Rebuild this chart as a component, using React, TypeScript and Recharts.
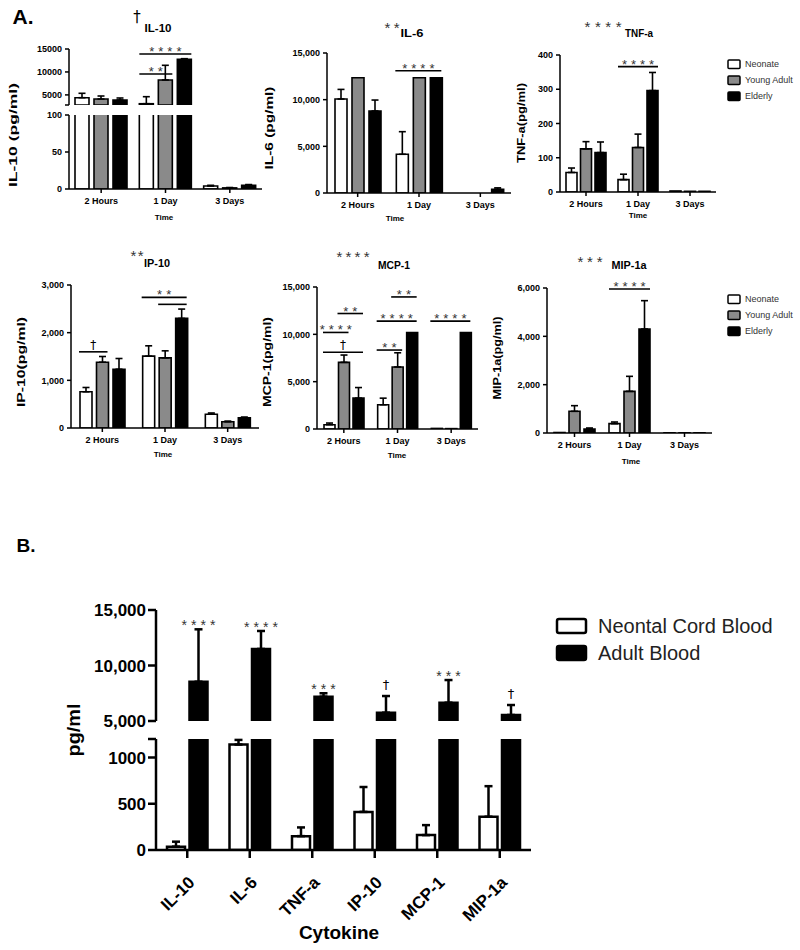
import React from 'react';
import { BarChart, Bar, XAxis, YAxis, ErrorBar, ReferenceLine, ReferenceDot } from 'recharts';

const FONT = "'Liberation Sans', Arial, sans-serif";

// ---------- Part A data (order: 2 Hours, 1 Day, 3 Days) ----------
const TIMES = ['2 Hours', '1 Day', '3 Days'];
const GROUPS = ['Neonate', 'Young Adult', 'Elderly'];
const GROUP_FILL = ['#ffffff', '#8a8a8a', '#000000'];

const IL10_NEONATE = [4390, 3080, 4];
const IL10_YOUNG = [4100, 8250, 1.5];
const IL10_ELDERLY = [3890, 12750, 5];
const IL10_NEONATE_SEM = [960, 1530, 1];
const IL10_YOUNG_SEM = [660, 3200, 0.5];
const IL10_ELDERLY_SEM = [435, 140, 1];
const IL10_TICKS_TOP = [2800, 5000, 10000, 15000];
const IL10_LABELS_TOP = ['', '5000', '10000', '15000'];
const IL10_TICKS_BOTTOM = [0, 50, 100];

const IL6_NEONATE = [10070, 4150, 0];
const IL6_YOUNG = [12350, 12350, 0];
const IL6_ELDERLY = [8790, 12350, 400];
const IL6_NEONATE_SEM = [1030, 2420, 0];
const IL6_YOUNG_SEM = [0, 0, 0];
const IL6_ELDERLY_SEM = [1170, 0, 150];
const IL6_TICKS = [0, 5000, 10000, 15000];

const TNF_NEONATE = [57, 36, 3];
const TNF_YOUNG = [126, 130, 2];
const TNF_ELDERLY = [115, 296, 2];
const TNF_NEONATE_SEM = [13, 16, 0];
const TNF_YOUNG_SEM = [21, 39, 0];
const TNF_ELDERLY_SEM = [31, 53, 0];
const TNF_TICKS = [0, 100, 200, 300, 400];

const IP10_NEONATE = [760, 1507, 290];
const IP10_YOUNG = [1380, 1472, 130];
const IP10_ELDERLY = [1233, 2299, 215];
const IP10_NEONATE_SEM = [90, 217, 25];
const IP10_YOUNG_SEM = [120, 147, 15];
const IP10_ELDERLY_SEM = [225, 196, 15];
const IP10_TICKS = [0, 1000, 2000, 3000];

const MCP1_NEONATE = [455, 2558, 60];
const MCP1_YOUNG = [7043, 6552, 40];
const MCP1_ELDERLY = [3258, 10196, 10196];
const MCP1_NEONATE_SEM = [175, 700, 0];
const MCP1_YOUNG_SEM = [770, 1500, 0];
const MCP1_ELDERLY_SEM = [1120, 0, 0];
const MCP1_TICKS = [0, 5000, 10000, 15000];

const MIP1A_NEONATE = [20, 386, 8];
const MIP1A_YOUNG = [897, 1724, 8];
const MIP1A_ELDERLY = [166, 4303, 8];
const MIP1A_NEONATE_SEM = [0, 69, 0];
const MIP1A_YOUNG_SEM = [234, 621, 0];
const MIP1A_ELDERLY_SEM = [41, 1173, 0];
const MIP1A_TICKS = [0, 2000, 4000, 6000];

// significance bars: time index, from group, to group, height (pg/ml), label
type Sig = { cat: number; from: number; to: number; y: number; text: string };
const IL10_SIG: Sig[] = [
  { cat: 1, from: 0, to: 1, y: 9550, text: '**' },
  { cat: 1, from: 0, to: 2, y: 13900, text: '****' },
];
const IL6_SIG: Sig[] = [{ cat: 1, from: 0, to: 2, y: 13100, text: '****' }];
const TNF_SIG: Sig[] = [{ cat: 1, from: 0, to: 2, y: 366, text: '****' }];
const IP10_SIG: Sig[] = [
  { cat: 0, from: 0, to: 1, y: 1598, text: '†' },
  { cat: 1, from: 0, to: 2, y: 2741, text: '**' },
  { cat: 1, from: 1, to: 2, y: 2594, text: '' },
];
const MCP1_SIG: Sig[] = [
  { cat: 0, from: 1, to: 2, y: 12200, text: '**' },
  { cat: 0, from: 0, to: 1, y: 10200, text: '****' },
  { cat: 0, from: 0, to: 2, y: 8100, text: '†' },
  { cat: 1, from: 1, to: 2, y: 13950, text: '**' },
  { cat: 1, from: 0, to: 2, y: 11390, text: '****' },
  { cat: 1, from: 0, to: 1, y: 8340, text: '**' },
  { cat: 2, from: 0, to: 2, y: 11390, text: '****' },
];
const MIP1A_SIG: Sig[] = [{ cat: 1, from: 0, to: 2, y: 5960, text: '****' }];

// ---------- Part B data ----------
const CYTOKINES = ['IL-10', 'IL-6', 'TNF-a', 'IP-10', 'MCP-1', 'MIP-1a'];
const B_GROUPS = ['Neontal Cord Blood', 'Adult Blood'];
const B_FILL = ['#ffffff', '#000000'];
const CORD = [36, 1140, 150, 412, 161, 360];
const CORD_SEM = [54, 50, 94, 269, 108, 330];
const ADULT = [8540, 11490, 7190, 5750, 6650, 5540];
const ADULT_SEM = [4720, 1620, 310, 1500, 2040, 900];
const ADULT_STARS = ['****', '****', '***', '†', '***', '†'];
const B_TICKS_TOP = [5000, 10000, 15000];
const B_TICKS_BOTTOM = [0, 500, 1000, 1200];
const B_LABELS_BOTTOM = ['0', '500', '1000', ''];

// ---------- drawing ----------
type Series = { name: string; values: number[]; sem: number[]; fill: string };
type Star = { cat: number; bar: number; y: number; text: string };
type Look = {
  axisW: number; barStroke: number; capW: number; errW: number;
  tickFont: number; tickSize: number; tickMargin: number;
  xHeight: number; xTickMargin: number; xAngle?: number;
  starFont: number; starSpacing: number; starDy: number; daggerDy: number;
};

const A_LOOK: Look = {
  axisW: 1.5, barStroke: 1.6, capW: 3.5, errW: 1.6, tickFont: 9, tickSize: 4, tickMargin: 3,
  xHeight: 20, xTickMargin: 5, starFont: 13, starSpacing: 4, starDy: 2, daggerDy: -3,
};
const B_LOOK: Look = {
  axisW: 2.5, barStroke: 2.5, capW: 4, errW: 2.5, tickFont: 17, tickSize: 8, tickMargin: 2,
  xHeight: 95, xTickMargin: 17, xAngle: -45, starFont: 14, starSpacing: 4, starDy: 1, daggerDy: -7,
};

const Y_W = 70;
const MT = 18;
const MR = 10;
const MB = 14;

function SigText(props: any) {
  const { viewBox, txt, look } = props;
  if (!viewBox || !txt) return null;
  const dagger = txt.includes('†');
  const sp = dagger ? 0 : look.starSpacing;
  return (
    <text
      x={viewBox.x + sp / 2}
      y={viewBox.y + (dagger ? look.daggerDy : look.starDy)}
      textAnchor="middle"
      fontSize={dagger ? look.starFont - 1 : look.starFont}
      letterSpacing={sp}
      fill={dagger ? '#000' : '#333'}
      fontFamily={dagger ? "'DejaVu Sans', sans-serif" : FONT}
    >
      {txt}
    </text>
  );
}

interface SegmentProps {
  cats: string[];
  series: Series[];
  domain: [number, number];
  ticks: number[];
  fmt: (v: number) => string;
  box: { left: number; right: number; top: number; bottom: number };
  barSize: number;
  barGap: number;
  showX: boolean;
  look: Look;
  sigs?: Sig[];
  stars?: Star[];
}

function Segment(p: SegmentProps) {
  const { cats, series, domain, box, look } = p;
  const plotW = box.right - box.left;
  const plotH = box.bottom - box.top;
  const xH = p.showX ? look.xHeight : 0;
  const mb = p.showX ? 0 : MB;
  const n = cats.length;
  const band = plotW / n;
  const m = series.length;
  const off = Math.floor((band - (m * p.barSize + (m - 1) * p.barGap)) / 2);
  const barLeft = (c: number, k: number) => c + (off + k * (p.barSize + p.barGap)) / band;
  const barRight = (c: number, k: number) => barLeft(c, k) + p.barSize / band;

  const rows = cats.map((c, i) => {
    const r: Record<string, unknown> = { cat: c, pos: i + 0.5 };
    series.forEach((s, k) => {
      const v = s.values[i];
      const shown = domain[0] <= 0 || v > domain[0];
      r[`v${k}`] = shown ? v : null;
      r[`e${k}`] = shown && v + s.sem[i] <= domain[1] && s.sem[i] > 0 ? [0, s.sem[i]] : null;
    });
    return r;
  });

  const axisStyle = { stroke: '#000', strokeWidth: look.axisW };
  const tickStyle: any = { fontSize: look.tickFont, fontWeight: 700, fill: '#000', fontFamily: FONT };

  return (
    <div style={{ position: 'absolute', left: box.left - Y_W, top: box.top - MT }}>
      <BarChart
        width={Y_W + plotW + MR}
        height={MT + plotH + xH + mb}
        data={rows}
        margin={{ top: MT, right: MR, bottom: mb, left: 0 }}
        barGap={p.barGap}
        barSize={p.barSize}
      >
        <XAxis
          dataKey="cat"
          hide={!p.showX}
          height={p.showX ? xH : undefined}
          interval={0}
          axisLine={axisStyle}
          tickLine={axisStyle}
          tickSize={look.tickSize}
          tickMargin={look.xTickMargin}
          tick={look.xAngle ? { ...tickStyle, angle: look.xAngle, textAnchor: 'end' } : tickStyle}
        />
        <XAxis xAxisId="n" dataKey="pos" type="number" domain={[0, n]} hide allowDataOverflow />
        <YAxis
          width={Y_W}
          type="number"
          domain={domain}
          ticks={p.ticks}
          interval={0}
          allowDataOverflow
          tickFormatter={p.fmt}
          axisLine={axisStyle}
          tickLine={axisStyle}
          tickSize={look.tickSize}
          tickMargin={look.tickMargin}
          tick={tickStyle}
        />
        {series.map((s, k) => (
          <Bar
            key={s.name}
            dataKey={`v${k}`}
            name={s.name}
            fill={s.fill}
            stroke="#000"
            strokeWidth={look.barStroke}
            barSize={p.barSize}
            isAnimationActive={false}
          >
            <ErrorBar dataKey={`e${k}`} width={look.capW} strokeWidth={look.errW} stroke="#000" direction="y" />
          </Bar>
        ))}
        {(p.sigs || []).map((s, i) => (
          <ReferenceLine
            key={`l${i}`}
            xAxisId="n"
            segment={[
              { x: barLeft(s.cat, s.from), y: s.y },
              { x: barRight(s.cat, s.to), y: s.y },
            ]}
            stroke="#000"
            strokeWidth={1.6}
            ifOverflow="visible"
          />
        ))}
        {(p.sigs || []).filter((s) => s.text).map((s, i) => (
          <ReferenceDot
            key={`t${i}`}
            xAxisId="n"
            x={(barLeft(s.cat, s.from) + barRight(s.cat, s.to)) / 2}
            y={s.y}
            r={0}
            fill="none"
            stroke="none"
            ifOverflow="visible"
            label={<SigText txt={s.text} look={look} />}
          />
        ))}
        {(p.stars || []).map((s, i) => (
          <ReferenceDot
            key={`s${i}`}
            xAxisId="n"
            x={(barLeft(s.cat, s.bar) + barRight(s.cat, s.bar)) / 2}
            y={s.y}
            r={0}
            fill="none"
            stroke="none"
            ifOverflow="visible"
            label={<SigText txt={s.text} look={look} />}
          />
        ))}
      </BarChart>
    </div>
  );
}

const comma = (v: number) => v.toLocaleString('en-US');
const plain = (v: number) => String(v);
const fromLabels = (ticks: number[], labels: string[]) => (v: number) => labels[ticks.indexOf(v)] ?? '';

const groupSeries = (vals: number[][], sems: number[][]): Series[] =>
  GROUPS.map((g, k) => ({ name: g, values: vals[k], sem: sems[k], fill: GROUP_FILL[k] }));

function Txt(props: {
  x: number; y: number; s: string; size?: number; weight?: number; anchor?: string;
  rot?: boolean; len?: number; fill?: string; adj?: string;
}) {
  const { x, y, s, size = 11, weight = 700, anchor = 'middle', rot = false, len, fill = '#000', adj } = props;
  const isStar = /^\*+$/.test(s);
  const isDagger = s === '†';
  return (
    <text
      x={x}
      y={isStar ? y + size * 0.25 : y}
      fontSize={size}
      fontWeight={weight}
      textAnchor={anchor as any}
      dominantBaseline="central"
      fill={isDagger ? '#000' : fill}
      fontFamily={isDagger ? "'DejaVu Sans', sans-serif" : FONT}
      transform={rot ? `rotate(-90 ${x} ${y})` : undefined}
      textLength={len}
      lengthAdjust={len ? (adj || 'spacingAndGlyphs') : undefined}
    >
      {s}
    </text>
  );
}

const Y_LABELS = [
  { s: 'IL-10 (pg/ml)', x: 13, y: 135, len: 104 },
  { s: 'IL-6 (pg/ml)', x: 269, y: 128, len: 83 },
  { s: 'TNF-a(pg/ml)', x: 521, y: 123, len: 80 },
  { s: 'IP-10(pg/ml)', x: 21, y: 362, len: 90 },
  { s: 'MCP-1(pg/ml)', x: 267, y: 362, len: 90 },
  { s: 'MIP-1a(pg/ml)', x: 497, y: 358, len: 83 },
];
const TITLES = [
  { pre: '†', px: 137, py: 17, plen: 0, s: 'IL-10', x: 158, y: 28, len: 27 },
  { pre: '**', px: 392, py: 24, plen: 15, s: 'IL-6', x: 412, y: 33, len: 23 },
  { pre: '****', px: 603, py: 23, plen: 37, s: 'TNF-a', x: 639, y: 33, len: 28 },
  { pre: '**', px: 137, py: 252, plen: 13, s: 'IP-10', x: 157, y: 263, len: 26 },
  { pre: '****', px: 353, py: 253, plen: 33, s: 'MCP-1', x: 394, y: 265, len: 32 },
  { pre: '***', px: 590, py: 258, plen: 25, s: 'MIP-1a', x: 629, y: 265, len: 35 },
];
const TIME_POS = [
  [164, 217], [395, 218], [638, 215], [163, 454], [397, 455], [631, 461],
];

function Overlay() {
  return (
    <svg width={800} height={950} style={{ position: 'absolute', left: 0, top: 0, pointerEvents: 'none' }}>
      <Txt x={23} y={16} s="A." size={21} />
      <Txt x={26} y={545} s="B." size={19} />
      {Y_LABELS.map((l) => (
        <Txt key={l.s} x={l.x} y={l.y} s={l.s} size={10} rot len={l.len} />
      ))}
      {TITLES.map((t) => (
        <g key={t.s}>
          <Txt x={t.px} y={t.py} s={t.pre} size={15} weight={400} fill="#333" len={t.plen || undefined} adj="spacing" />
          <Txt x={t.x} y={t.y} s={t.s} size={11} len={t.len} />
        </g>
      ))}
      {TIME_POS.map(([x, y], i) => (
        <Txt key={i} x={x} y={y} s="Time" size={8} />
      ))}
      {[48, 283].map((y0) =>
        GROUPS.map((g, k) => (
          <g key={`${y0}${g}`}>
            <rect x={728} y={y0 + k * 16 + 12} width={12} height={8.5} fill={GROUP_FILL[k]} stroke="#000" strokeWidth={1.5} rx={1} />
            <Txt x={745} y={y0 + k * 16 + 16} s={g} size={9} weight={400} anchor="start" fill="#333" />
          </g>
        )),
      )}
      {B_GROUPS.map((g, k) => (
        <g key={g}>
          <rect x={557} y={619 + k * 27} width={29} height={14} fill={B_FILL[k]} stroke="#000" strokeWidth={2.5} rx={2} />
          <Txt x={598} y={626 + k * 27} s={g} size={20} weight={400} anchor="start" fill="#222" />
        </g>
      ))}
      <Txt x={73} y={730} s="pg/ml" size={19} rot len={53} />
      <Txt x={339} y={932} s="Cytokine" size={19} />
    </svg>
  );
}

export default function App() {
  const il10 = groupSeries([IL10_NEONATE, IL10_YOUNG, IL10_ELDERLY], [IL10_NEONATE_SEM, IL10_YOUNG_SEM, IL10_ELDERLY_SEM]);
  const il6 = groupSeries([IL6_NEONATE, IL6_YOUNG, IL6_ELDERLY], [IL6_NEONATE_SEM, IL6_YOUNG_SEM, IL6_ELDERLY_SEM]);
  const tnf = groupSeries([TNF_NEONATE, TNF_YOUNG, TNF_ELDERLY], [TNF_NEONATE_SEM, TNF_YOUNG_SEM, TNF_ELDERLY_SEM]);
  const ip10 = groupSeries([IP10_NEONATE, IP10_YOUNG, IP10_ELDERLY], [IP10_NEONATE_SEM, IP10_YOUNG_SEM, IP10_ELDERLY_SEM]);
  const mcp1 = groupSeries([MCP1_NEONATE, MCP1_YOUNG, MCP1_ELDERLY], [MCP1_NEONATE_SEM, MCP1_YOUNG_SEM, MCP1_ELDERLY_SEM]);
  const mip1a = groupSeries([MIP1A_NEONATE, MIP1A_YOUNG, MIP1A_ELDERLY], [MIP1A_NEONATE_SEM, MIP1A_YOUNG_SEM, MIP1A_ELDERLY_SEM]);
  const blood: Series[] = [
    { name: B_GROUPS[0], values: CORD, sem: CORD_SEM, fill: B_FILL[0] },
    { name: B_GROUPS[1], values: ADULT, sem: ADULT_SEM, fill: B_FILL[1] },
  ];
  const bStars: Star[] = CYTOKINES.map((_, i) => ({ cat: i, bar: 1, y: ADULT[i] + ADULT_SEM[i], text: ADULT_STARS[i] }));

  return (
    <div style={{ position: 'absolute', left: 0, top: 0, width: 800, height: 950, background: '#fff', overflow: 'hidden' }}>
      {/* IL-10, broken axis */}
      <Segment cats={TIMES} series={il10} domain={[2800, 15000]} ticks={IL10_TICKS_TOP}
        fmt={fromLabels(IL10_TICKS_TOP, IL10_LABELS_TOP)} box={{ left: 69, right: 262, top: 49, bottom: 105 }}
        barSize={14} barGap={5} showX={false} look={A_LOOK} sigs={IL10_SIG} />
      <Segment cats={TIMES} series={il10} domain={[0, 100]} ticks={IL10_TICKS_BOTTOM} fmt={plain}
        box={{ left: 69, right: 262, top: 115, bottom: 189 }} barSize={14} barGap={5} showX look={A_LOOK} />
      <Segment cats={TIMES} series={il6} domain={[0, 15000]} ticks={IL6_TICKS} fmt={comma}
        box={{ left: 327, right: 511, top: 53, bottom: 193 }} barSize={12} barGap={5} showX look={A_LOOK} sigs={IL6_SIG} />
      <Segment cats={TIMES} series={tnf} domain={[0, 400]} ticks={TNF_TICKS} fmt={plain}
        box={{ left: 560, right: 716, top: 55, bottom: 192 }} barSize={11} barGap={3.5} showX look={A_LOOK} sigs={TNF_SIG} />
      <Segment cats={TIMES} series={ip10} domain={[0, 3000]} ticks={IP10_TICKS} fmt={comma}
        box={{ left: 71, right: 259, top: 285, bottom: 428 }} barSize={12} barGap={4.5} showX look={A_LOOK} sigs={IP10_SIG} />
      <Segment cats={TIMES} series={mcp1} domain={[0, 15000]} ticks={MCP1_TICKS} fmt={comma}
        box={{ left: 317, right: 478, top: 287, bottom: 429 }} barSize={11} barGap={3.5} showX look={A_LOOK} sigs={MCP1_SIG} />
      <Segment cats={TIMES} series={mip1a} domain={[0, 6000]} ticks={MIP1A_TICKS} fmt={comma}
        box={{ left: 547, right: 712, top: 288, bottom: 433 }} barSize={11} barGap={4} showX look={A_LOOK} sigs={MIP1A_SIG} />
      {/* Part B, broken axis */}
      <Segment cats={CYTOKINES} series={blood} domain={[5000, 15000]} ticks={B_TICKS_TOP} fmt={comma}
        box={{ left: 156, right: 531, top: 610, bottom: 721 }} barSize={18} barGap={4.5} showX={false} look={B_LOOK} stars={bStars} />
      <Segment cats={CYTOKINES} series={blood} domain={[0, 1200]} ticks={B_TICKS_BOTTOM}
        fmt={fromLabels(B_TICKS_BOTTOM, B_LABELS_BOTTOM)} box={{ left: 156, right: 531, top: 739, bottom: 850 }}
        barSize={18} barGap={4.5} showX look={B_LOOK} />
      <Overlay />
    </div>
  );
}
